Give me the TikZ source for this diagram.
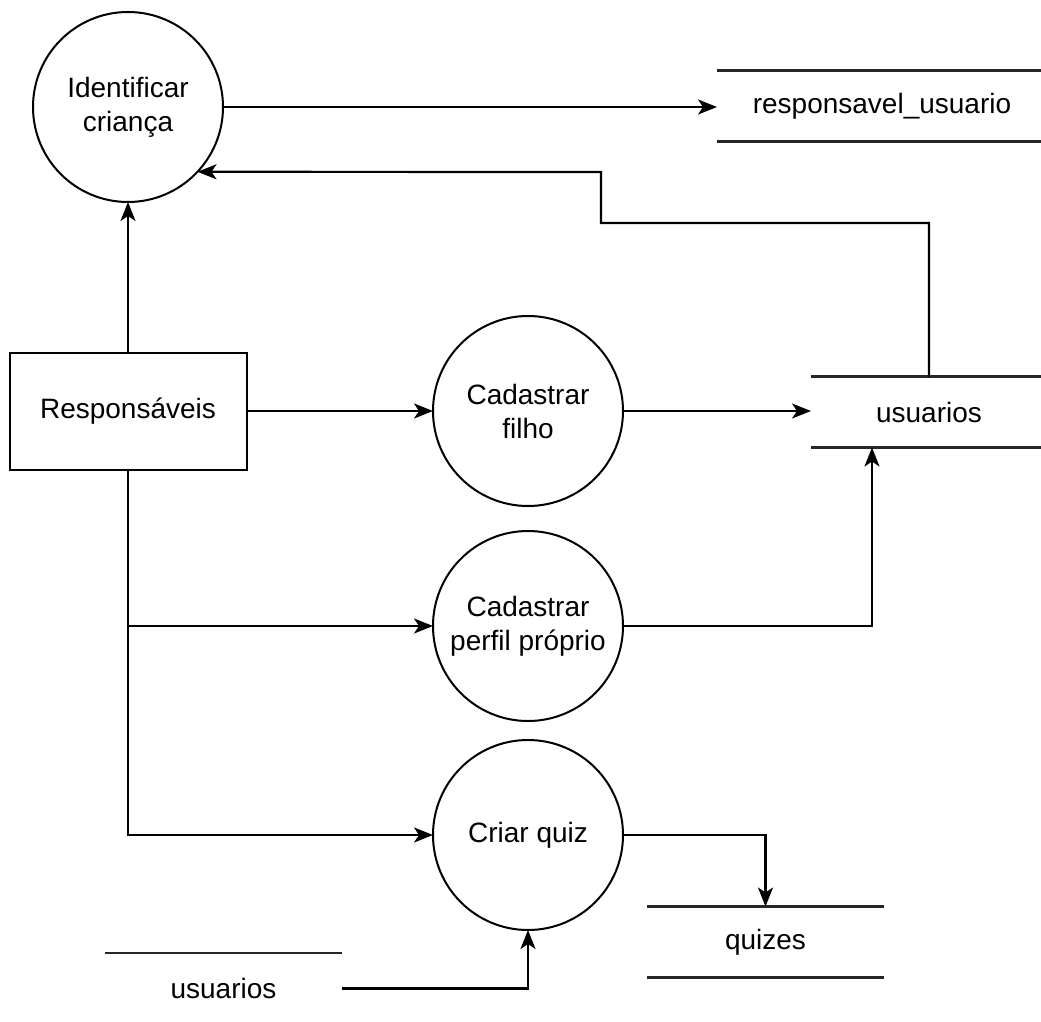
\documentclass[tikz,border=0pt]{standalone}
\usepackage{fontspec}
\setmainfont{Liberation Sans}
\usetikzlibrary{arrows.meta}
\begin{document}
\begin{tikzpicture}[x=1pt,y=-1pt,
  font=\fontsize{28}{34}\selectfont,
  every node/.style={align=center, inner sep=0pt, outer sep=0pt},
  proc/.style={circle, draw, line width=2pt, minimum size=190pt},
  entity/.style={rectangle, draw, line width=2pt, minimum width=237pt, minimum height=117pt},
  store/.style={rectangle, minimum height=71pt},
  storeline/.style={line width=2.2pt, draw=black!85},
  flow/.style={line width=2.2pt, -{Stealth[length=19pt,width=15pt,inset=5pt]}}]

  \useasboundingbox (0,0) rectangle (1041,1022);

  % processes and external entity
  \node[proc] (ident) at (128,107) {Identificar\\criança};
  \node[entity] (resp) at (128,411) {Responsáveis};
  \node[proc] (cf) at (528,411) {Cadastrar\\filho};
  \node[proc] (cpp) at (528,626) {Cadastrar\\perfil próprio};
  \node[proc] (quiz) at (528,835) {Criar quiz};

  % data stores
  \node[store, minimum width=330pt] (rustore) at (882,106) {responsavel\_usuario};
  \node[store, minimum width=236pt] (usr) at (929,412) {usuarios};
  \node[store, minimum width=237pt] (qz) at (765.5,942) {quizes};
  \node[store, minimum width=237pt] (usr2) at (223.5,988.5) {usuarios};

  \foreach \s in {rustore,usr,qz,usr2}{
    \draw[storeline] (\s.north west) -- (\s.north east);
    \draw[storeline] (\s.south west) -- (\s.south east);
  }

  % bends of the feedback flow
  \coordinate (fb1) at (601,223);
  \coordinate (fb2) at (601,172);

  % data flows
  \draw[flow] (ident.east) -- (ident.east -| rustore.west);
  \draw[flow] (usr.north) |- (fb1) -- (fb2) -- (ident.-43.2);
  \draw[flow] (resp.north) -- (ident.south);
  \draw[flow] (resp.east) -- (cf.west);
  \draw[flow] (cf.east) -- (cf.east -| usr.west);
  \draw[flow] (resp.south) |- (quiz.west);
  \draw[flow] (resp.south |- cpp.west) -- (cpp.west);
  \draw[flow] (cpp.east) -| ([xshift=-57pt]usr.south);
  \draw[flow] (quiz.east) -| (qz.north);
  \draw[flow] (usr2.east) -| (quiz.south);
\end{tikzpicture}
\end{document}
